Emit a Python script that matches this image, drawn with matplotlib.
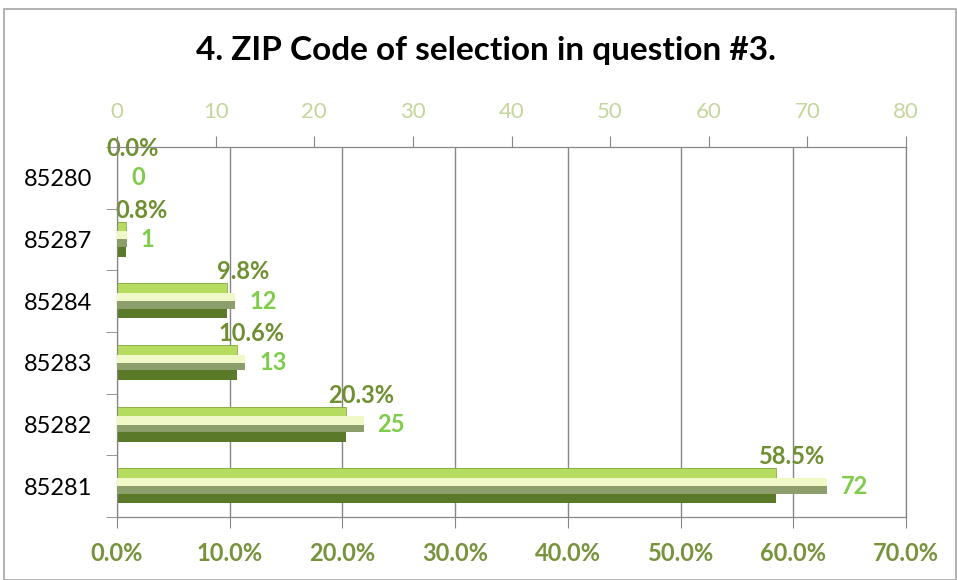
import matplotlib.pyplot as plt
from matplotlib.patches import Rectangle

# data (top to bottom)
zips = ['85280', '85287', '85284', '85283', '85282', '85281']
pct = [0.0, 0.8, 9.8, 10.6, 20.3, 58.5]
counts = [0, 1, 12, 13, 25, 72]
pct_ticks = [0, 10, 20, 30, 40, 50, 60, 70]
count_ticks = [0, 10, 20, 30, 40, 50, 60, 70, 80]

plt.rcParams['font.family'] = ['Lato', 'DejaVu Sans']

fig = plt.figure(figsize=(9.57, 5.80), dpi=100)
fig.patches.append(Rectangle((0.004, 0.0), 0.995, 0.985, transform=fig.transFigure,
                             fill=False, edgecolor='#a6a6a6', linewidth=1.2))
fig.text(0.508, 0.913, '4. ZIP Code of selection in question #3.', ha='center', va='center',
         fontsize=24, fontweight='bold', color='black')

ax = fig.add_axes([0.1223, 0.1086, 0.8244, 0.638])
pos = list(range(len(zips)))

# percent series: dark front face with a light top strip
ax.barh([p - 0.29 for p in pos], pct, height=0.57, align='edge', color='#5b7a29', zorder=3)
ax.barh([p - 0.29 for p in pos], pct, height=0.16, align='edge', color='#b5dc5f',
        edgecolor='#8fb04a', linewidth=0.6, zorder=4)

ax.set_xlim(0, 70)
ax.set_ylim(len(zips) - 0.5, -0.5)
ax.set_xticks(pct_ticks)
ax.set_xticklabels([f'{t:.1f}%' for t in pct_ticks], fontsize=17, fontweight='bold', color='#77933c')
ax.set_yticks(pos)
ax.set_yticklabels(zips, fontsize=17, color='black')
ax.set_yticks([p + 0.5 for p in range(-1, len(zips))], minor=True)
ax.tick_params(axis='y', which='major', length=0, pad=18)
ax.tick_params(axis='y', which='minor', length=8, color='#868686')
ax.tick_params(axis='x', length=8, color='#868686', pad=10)
ax.grid(axis='x', color='#868686', linewidth=1, zorder=0)
for s in ax.spines.values():
    s.set_color('#868686')

for p, v in zip(pos, pct):
    ax.annotate(f'{v:.1f}%', (v, p - 0.29), xytext=(11, 0), textcoords='offset points',
                ha='center', va='bottom', fontsize=17, fontweight='bold', color='#6f8f30', zorder=6)

# count series on the top axis, drawn in front
ax2 = ax.twiny()
ax2.barh([p - 0.13 for p in pos], counts, height=0.13, align='edge', color='#f0f8c8', zorder=3)
ax2.barh([p for p in pos], counts, height=0.12, align='edge', color='#8c9e6c', zorder=3)
ax2.set_xlim(0, 80)
ax2.set_xticks(count_ticks)
ax2.set_xticklabels([str(t) for t in count_ticks], fontsize=16, color='#c3d69b')
ax2.tick_params(axis='x', length=8, color='#868686', pad=10)
for s in ax2.spines.values():
    s.set_color('#868686')

for p, c in zip(pos, counts):
    ax2.annotate(str(c), (c, p), xytext=(10, 0), textcoords='offset points',
                 ha='left', va='center', fontsize=17, fontweight='bold', color='#7fcb4a')

fig.savefig('out.png', dpi=100)
